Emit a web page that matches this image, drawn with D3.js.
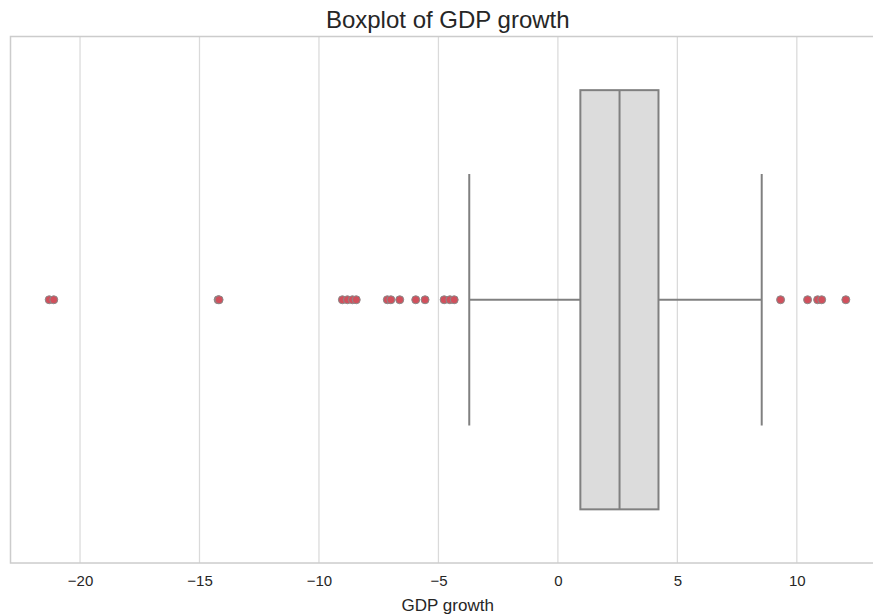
<!DOCTYPE html>
<meta charset="utf-8" />
<style>
  body {
    background: #fff;
    margin: 0px;
    overflow: hidden;
  }
  text {
    font-family: "Liberation Sans", Arial, sans-serif;
  }
  .grid line {
    stroke: #dadada;
    stroke-width: 1.25px;
  }
  .frame {
    fill: none;
    stroke: #cccccc;
    stroke-width: 1.5px;
  }
  .box {
    fill: #dcdcdc;
    stroke: #808080;
    stroke-width: 2px;
  }
  .whisker {
    stroke: #808080;
    stroke-width: 2px;
  }
  .flier {
    fill: #d1505c;
    stroke: #8a8a8a;
    stroke-width: 1px;
  }
</style>
<body>
<script src="https://d3js.org/d3.v7.min.js"></script>
<script>
  var width = 873,
    height = 614;

  // box statistics
  var whiskerLow = -3.71,
    q1 = 0.94,
    median = 2.58,
    q3 = 4.21,
    whiskerHigh = 8.53;

  var outliers = [
    -21.29, -21.1, -14.22, -14.18, -9.02, -8.81, -8.6, -8.44, -7.14, -6.99,
    -6.62, -5.95, -5.56, -4.76, -4.52, -4.34, 9.32, 10.45, 10.87, 11.04, 12.05,
  ];

  var ticks = [-20, -15, -10, -5, 0, 5, 10];

  var margin = { top: 36.5, left: 10.5, right: 885, bottom: 563 };

  var svg = d3
    .select("body")
    .append("svg")
    .attr("width", width)
    .attr("height", height);

  var x = d3.scaleLinear().domain([-22.91, 13.69]).range([margin.left, margin.right]);
  var y = d3.scaleBand().domain(["GDP"]).range([margin.top, margin.bottom]).paddingInner(0).paddingOuter(0.128);

  var grid = svg.append("g").attr("class", "grid");
  grid
    .selectAll("line")
    .data(ticks)
    .enter()
    .append("line")
    .attr("x1", (d) => x(d))
    .attr("x2", (d) => x(d))
    .attr("y1", margin.top)
    .attr("y2", margin.bottom);

  svg
    .append("rect")
    .attr("class", "frame")
    .attr("x", margin.left)
    .attr("y", margin.top)
    .attr("width", margin.right - margin.left)
    .attr("height", margin.bottom - margin.top);

  var axis = d3
    .axisBottom(x)
    .tickValues(ticks)
    .tickSize(0)
    .tickPadding(12)
    .tickFormat((d) => (d < 0 ? "\u2212" + Math.abs(d) : d));

  var gx = svg
    .append("g")
    .attr("transform", "translate(0," + margin.bottom + ")")
    .call(axis);
  gx.select(".domain").remove();
  gx.selectAll("text")
    .style("font-family", '"Liberation Sans", Arial, sans-serif')
    .style("font-size", "15px")
    .style("fill", "#262626");

  var cy = y("GDP") + y.bandwidth() / 2;

  // whiskers
  svg
    .append("line")
    .attr("class", "whisker")
    .attr("x1", x(whiskerLow))
    .attr("x2", x(q1))
    .attr("y1", cy)
    .attr("y2", cy);
  svg
    .append("line")
    .attr("class", "whisker")
    .attr("x1", x(q3))
    .attr("x2", x(whiskerHigh))
    .attr("y1", cy)
    .attr("y2", cy);

  var capH = y.bandwidth() * 0.3;
  [whiskerLow, whiskerHigh].forEach(function (v) {
    svg
      .append("line")
      .attr("class", "whisker")
      .attr("x1", x(v))
      .attr("x2", x(v))
      .attr("y1", cy - capH)
      .attr("y2", cy + capH);
  });

  svg
    .append("rect")
    .attr("class", "box")
    .attr("x", x(q1))
    .attr("y", y("GDP"))
    .attr("width", x(q3) - x(q1))
    .attr("height", y.bandwidth());

  svg
    .append("line")
    .attr("class", "whisker")
    .attr("x1", x(median))
    .attr("x2", x(median))
    .attr("y1", y("GDP"))
    .attr("y2", y("GDP") + y.bandwidth());

  svg
    .selectAll(".flier")
    .data(outliers)
    .enter()
    .append("circle")
    .attr("class", "flier")
    .attr("cx", (d) => x(d))
    .attr("cy", cy)
    .attr("r", 4);

  svg
    .append("text")
    .attr("x", (margin.left + margin.right) / 2)
    .attr("y", 28)
    .attr("text-anchor", "middle")
    .style("font-size", "24px")
    .style("fill", "#262626")
    .text("Boxplot of GDP growth");

  svg
    .append("text")
    .attr("x", (margin.left + margin.right) / 2)
    .attr("y", 611)
    .attr("text-anchor", "middle")
    .style("font-size", "17px")
    .style("fill", "#262626")
    .text("GDP growth");
</script>
</body>
